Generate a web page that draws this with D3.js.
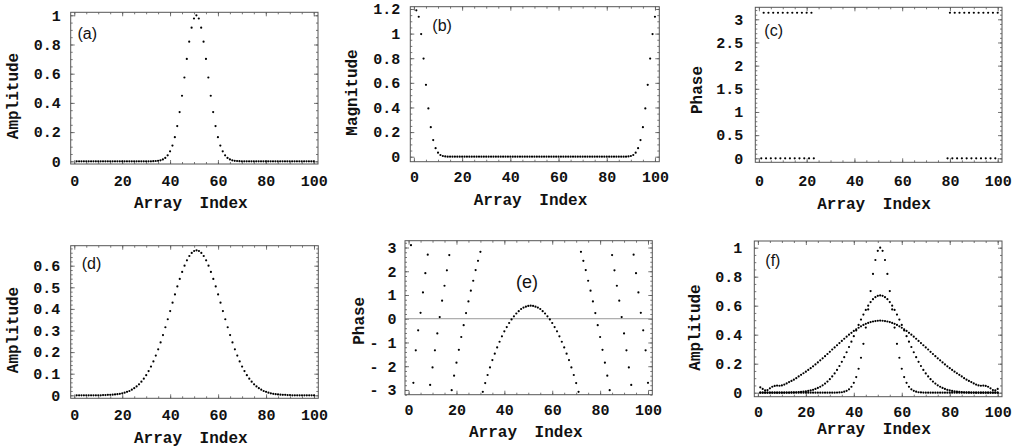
<!DOCTYPE html>
<html>
<head>
<meta charset="utf-8">
<script src="https://cdn.jsdelivr.net/npm/d3@7"></script>
<style>
  html, body { margin: 0; padding: 0; background: #fff; }
  svg { display: block; }
</style>
</head>
<body>
<script>
"use strict";

// ---- data (array index 1..100 unless a separate index list is given) ----
const xTickValues = [0, 20, 40, 60, 80, 100];

// (a) initial amplitude
const ampInitial = [
  0,0,0,0,0,0,0,0,0,0, 0,0,0,0,0,0,0,0,0,0, 0,0,0,0,0,0,0,0,0,0, 0,0,
  0.001,0.002,0.003,0.007,0.013,0.023,0.041,0.068,0.108,0.165,
  0.241,0.337,0.449,0.574,0.701,0.819,0.915,0.978,1,0.978,
  0.915,0.819,0.701,0.574,0.449,0.337,0.241,0.165,0.108,0.068,
  0.041,0.023,0.013,0.007,0.003,0.002,0.001,
  0,0,0,0,0,0,0,0,0,0, 0,0,0,0,0,0,0,0,0,0, 0,0,0,0,0,0,0,0,0,0, 0
];

// (b) magnitude of the transform
const magnitude = [
  1.189,1.137,0.996,0.797,0.584,0.392,0.240,0.135,0.069,0.033,
  0.014,0.0055,0.002,0.0006,
  0,0,0,0,0,0,0,0,0,0, 0,0,0,0,0,0,0,0,0,0, 0,0,0,0,0,0,0,0,0,0,
  0,0,0,0,0,0,0,0,0,0, 0,0,0,0,0,0,0,0,0,0, 0,0,0,0,0,0,0,0,0,0,
  0,0,0,0,0,0,0,0,0,0, 0,0,0,
  0.0006,0.002,0.0055,0.014,0.033,0.069,0.135,0.240,0.392,0.584,
  0.797,0.996,1.137
];

// (c) phase of the transform (only the plotted points)
const phaseCIndex = [
  1,2,3,4,5,6,7,8,9,10,11,12,13,14,15,16,17,18,19,20,21,22,23,
  79,80,81,82,83,84,85,86,87,88,89,90,91,92,93,94,95,96,97,98,99,100
];
const phaseCValue = [
  0,3.1416,0,3.1416,0,3.1416,0,3.1416,0,3.1416,0,3.1416,0,3.1416,0,3.1416,0,3.1416,0,3.1416,0,3.1416,0,
  0,3.1416,0,3.1416,0,3.1416,0,3.1416,0,3.1416,0,3.1416,0,3.1416,0,3.1416,0,3.1416,0,3.1416,0,3.1416
];

// (d) amplitude after spreading
const ampSpread = [
  0,0,0,0,0,0,0,0,0,0, 0,
  0.001,0.001,0.002,0.002,0.003,0.004,0.005,0.007,0.009,
  0.012,0.016,0.020,0.026,0.033,0.041,0.051,0.063,0.077,0.093,
  0.112,0.133,0.157,0.184,0.213,0.245,0.279,0.315,0.352,0.390,
  0.429,0.467,0.504,0.539,0.571,0.600,0.625,0.645,0.659,0.668,
  0.671,
  0.668,0.659,0.645,0.625,0.600,0.571,0.539,0.504,0.467,0.429,
  0.390,0.352,0.315,0.279,0.245,0.213,0.184,0.157,0.133,0.112,
  0.093,0.077,0.063,0.051,0.041,0.033,0.026,0.020,0.016,0.012,
  0.009,0.007,0.005,0.004,0.003,0.002,0.002,0.001,0.001,
  0,0,0,0,0,0,0,0,0,0
];

// (e) phase after spreading
const phaseSpread = [
  3.10,-2.70,-1.33,-0.49,0.25,1.11,1.92,2.70,-2.79,-2.05,
  -1.33,-0.62,0.07,0.76,1.39,2.04,2.68,-3.01,-2.40,-1.85,
  -1.31,-0.77,-0.27,0.24,0.73,1.18,1.60,2.05,2.44,2.82,
  -3.08,-2.71,-2.37,-2.05,-1.74,-1.47,-1.21,-0.97,-0.74,-0.53,
  -0.35,-0.18,-0.03,0.10,0.22,0.32,0.41,0.47,0.51,0.54,
  0.55,
  0.54,0.51,0.47,0.41,0.32,0.22,0.10,-0.03,-0.18,-0.35,
  -0.53,-0.74,-0.97,-1.21,-1.47,-1.74,-2.05,-2.37,-2.71,-3.08,
  2.82,2.44,2.05,1.60,1.18,0.73,0.24,-0.27,-0.77,-1.31,
  -1.85,-2.40,-3.01,2.68,2.04,1.39,0.76,0.07,-0.62,-1.33,
  -2.05,-2.79,2.70,1.92,1.11,0.25,-0.49,-1.33,-2.70
];

// (f) third, broadest amplitude
const ampWide = [
  0.037,0.026,0.016,0.018,0.030,0.041,0.047,0.049,0.048,0.050,
  0.056,0.064,0.073,0.081,0.090,0.100,0.112,0.123,0.134,0.145,
  0.157,0.169,0.182,0.195,0.209,0.223,0.237,0.252,0.267,0.282,
  0.298,0.312,0.327,0.342,0.357,0.372,0.386,0.400,0.413,0.426,
  0.437,0.448,0.458,0.467,0.475,0.481,0.487,0.491,0.494,0.496,
  0.497,
  0.496,0.494,0.491,0.487,0.481,0.475,0.467,0.458,0.448,0.437,
  0.426,0.413,0.400,0.386,0.372,0.357,0.342,0.327,0.312,0.298,
  0.282,0.267,0.252,0.237,0.223,0.209,0.195,0.182,0.169,0.157,
  0.145,0.134,0.123,0.112,0.100,0.090,0.081,0.073,0.064,0.056,
  0.050,0.048,0.049,0.047,0.041,0.030,0.018,0.016,0.026
];

const ampTicks = [0, 0.2, 0.4, 0.6, 0.8, 1];
const magTicks = [0, 0.2, 0.4, 0.6, 0.8, 1, 1.2];
const phaseTicksC = [0, 0.5, 1, 1.5, 2, 2.5, 3];
const ampTicksD = [0, 0.1, 0.2, 0.3, 0.4, 0.5, 0.6];
const phaseTicksE = [-3, -2, -1, 0, 1, 2, 3];

const idx = v => v.map((y, i) => ({ x: i + 1, y }));

// ---- layout ----
const W = 1017, H = 448;
const MONO = "'Liberation Mono', 'DejaVu Sans Mono', monospace";
const SANS = "'Liberation Sans', Arial, sans-serif";

const panels = [
  { tag: "(a)", L: 70.7, R: 318, T: 12.3, B: 164, yDom: [-0.0185, 1.0205],
    yTicks: ampTicks, yMinor: 0.05, yTitle: "Amplitude", yTitleX: 17.5, yTitleY: 96,
    yLabGap: 10, xLabBase: 21.7, xTitleX: 190.8, xTitleY: 208, tagX: 77.5, tagY: 39, tagSize: 16,
    series: [idx(ampInitial)] },
  { tag: "(b)", L: 410.3, R: 659.3, T: 6.7, B: 161.7, yDom: [-0.0406, 1.2185],
    yTicks: magTicks, yMinor: 0.05, yTitle: "Magnitude", yTitleX: 357.3, yTitleY: 92.5,
    yLabGap: 10, xLabBase: 20, xTitleX: 530.5, xTitleY: 205, tagX: 432.3, tagY: 31, tagSize: 16,
    series: [idx(magnitude)] },
  { tag: "(c)", L: 755.3, R: 1002, T: 7.3, B: 162.3, yDom: [-0.086, 3.259],
    yTicks: phaseTicksC, yMinor: 0.1, yTitle: "Phase", yTitleX: 701.5, yTitleY: 90,
    yLabGap: 12, xLabBase: 24, xTitleX: 874, xTitleY: 208.5, tagX: 764.3, tagY: 36, tagSize: 16,
    series: [phaseCIndex.map((x, i) => ({ x, y: phaseCValue[i] }))] },
  { tag: "(d)", L: 70.7, R: 318.3, T: 245.7, B: 398.3, yDom: [-0.0139, 0.6926],
    yTicks: ampTicksD, yMinor: 0.02, yTitle: "Amplitude", yTitleX: 17.5, yTitleY: 330,
    yLabGap: 10.5, xLabBase: 21.7, xTitleX: 190.8, xTitleY: 442.5, tagX: 81.7, tagY: 268.5, tagSize: 16,
    series: [idx(ampSpread)] },
  { tag: "(e)", L: 405, R: 652.3, T: 240.7, B: 394.7, yDom: [-3.2, 3.287],
    yTicks: phaseTicksE, yMinor: 0.2, yTitle: "Phase", yTitleX: 363.5, yTitleY: 320.8,
    yLabGap: 8.5, xLabBase: 20, xTitleX: 525.8, xTitleY: 436.7, tagX: 516, tagY: 287.5, tagSize: 18,
    zeroLine: true, negFmt: true,
    series: [idx(phaseSpread)] },
  { tag: "(f)", L: 754.3, R: 1002, T: 241, B: 396.7, yDom: [-0.0276, 1.046],
    yTicks: ampTicks, yMinor: 0.05, yTitle: "Amplitude", yTitleX: 700, yTitleY: 327.5,
    yLabGap: 12, xLabBase: 20, xTitleX: 874, xTitleY: 434, tagX: 765.3, tagY: 266, tagSize: 16,
    series: [idx(ampInitial), idx(ampSpread), idx(ampWide)] }
];

const svg = d3.select("body").append("svg")
  .attr("width", W).attr("height", H)
  .attr("viewBox", `0 0 ${W} ${H}`);

const frameColor = "#555";

function minorValues(dom, step) {
  let out = [];
  let start = Math.ceil(dom[0] / step - 1e-9);
  for (let k = start; k * step <= dom[1] + 1e-9; k++) out.push(+(k * step).toFixed(6));
  return out;
}

function styleAxis(g) {
  g.select(".domain").remove();
  g.selectAll(".tick line").attr("stroke", frameColor).attr("stroke-width", 0.8);
}

panels.forEach((p, pi) => {
  const g = svg.append("g").attr("id", `panel-${pi}`);
  const x = d3.scaleLinear().domain([-1.5, 101.8]).range([p.L, p.R]);
  const y = d3.scaleLinear().domain(p.yDom).range([p.B, p.T]);

  const fmt = p.negFmt ? (v => v < 0 ? "- " + Math.abs(v) : String(v)) : (v => String(v));

  // minor ticks, all four sides
  const xMinor = minorValues(x.domain(), 5).filter(v => v >= 0 && v <= 100);
  const yMin = minorValues(p.yDom, p.yMinor);
  g.append("g").attr("transform", `translate(0,${p.B})`)
    .call(d3.axisBottom(x).tickValues(xMinor).tickSize(-2).tickFormat("")).call(styleAxis);
  g.append("g").attr("transform", `translate(0,${p.T})`)
    .call(d3.axisTop(x).tickValues(xMinor).tickSize(-2).tickFormat("")).call(styleAxis);
  g.append("g").attr("transform", `translate(${p.L},0)`)
    .call(d3.axisLeft(y).tickValues(yMin).tickSize(-2).tickFormat("")).call(styleAxis);
  g.append("g").attr("transform", `translate(${p.R},0)`)
    .call(d3.axisRight(y).tickValues(yMin).tickSize(-2).tickFormat("")).call(styleAxis);

  // major ticks
  g.append("g").attr("transform", `translate(0,${p.T})`)
    .call(d3.axisTop(x).tickValues(xTickValues).tickSize(-4).tickFormat("")).call(styleAxis);
  g.append("g").attr("transform", `translate(${p.R},0)`)
    .call(d3.axisRight(y).tickValues(p.yTicks).tickSize(-4).tickFormat("")).call(styleAxis);

  const xb = g.append("g").attr("transform", `translate(0,${p.B})`)
    .call(d3.axisBottom(x).tickValues(xTickValues).tickSize(-4).tickFormat(d => String(d)))
    .call(styleAxis);
  xb.selectAll("text")
    .attr("y", p.xLabBase).attr("dy", null)
    .attr("font-family", MONO).attr("font-weight", "bold").attr("font-size", 15).attr("fill", "#111");

  const yl = g.append("g").attr("transform", `translate(${p.L},0)`)
    .call(d3.axisLeft(y).tickValues(p.yTicks).tickSize(-4).tickPadding(p.yLabGap).tickFormat(fmt))
    .call(styleAxis);
  yl.selectAll("text")
    .attr("font-family", MONO).attr("font-weight", "bold").attr("font-size", 15).attr("fill", "#111");

  // zero reference line
  if (p.zeroLine) {
    g.append("line")
      .attr("x1", p.L).attr("x2", p.R).attr("y1", y(0)).attr("y2", y(0))
      .attr("stroke", "#999").attr("stroke-width", 1);
  }

  // frame
  g.append("rect")
    .attr("x", p.L).attr("y", p.T).attr("width", p.R - p.L).attr("height", p.B - p.T)
    .attr("fill", "none").attr("stroke", frameColor).attr("stroke-width", 1);

  // dots
  const clipId = `clip-${pi}`;
  g.append("clipPath").attr("id", clipId).append("rect")
    .attr("x", p.L).attr("y", p.T).attr("width", p.R - p.L).attr("height", p.B - p.T);
  const dots = g.append("g").attr("clip-path", `url(#${clipId})`);
  p.series.forEach(s => {
    dots.selectAll(null).data(s).join("circle")
      .attr("cx", d => x(d.x)).attr("cy", d => y(d.y)).attr("r", 1.1)
      .attr("fill", "#000");
  });

  // titles
  g.append("text")
    .attr("x", p.xTitleX).attr("y", p.xTitleY).attr("text-anchor", "middle")
    .attr("font-family", MONO).attr("font-weight", "bold").attr("font-size", 16)
    .attr("word-spacing", 8).attr("fill", "#111")
    .text("Array Index");
  g.append("text")
    .attr("transform", `translate(${p.yTitleX},${p.yTitleY}) rotate(-90)`)
    .attr("text-anchor", "middle")
    .attr("font-family", MONO).attr("font-weight", "bold").attr("font-size", 16).attr("fill", "#111")
    .text(p.yTitle);
  g.append("text")
    .attr("x", p.tagX).attr("y", p.tagY)
    .attr("font-family", SANS).attr("font-size", p.tagSize).attr("fill", "#111")
    .text(p.tag);
});
</script>
</body>
</html>
